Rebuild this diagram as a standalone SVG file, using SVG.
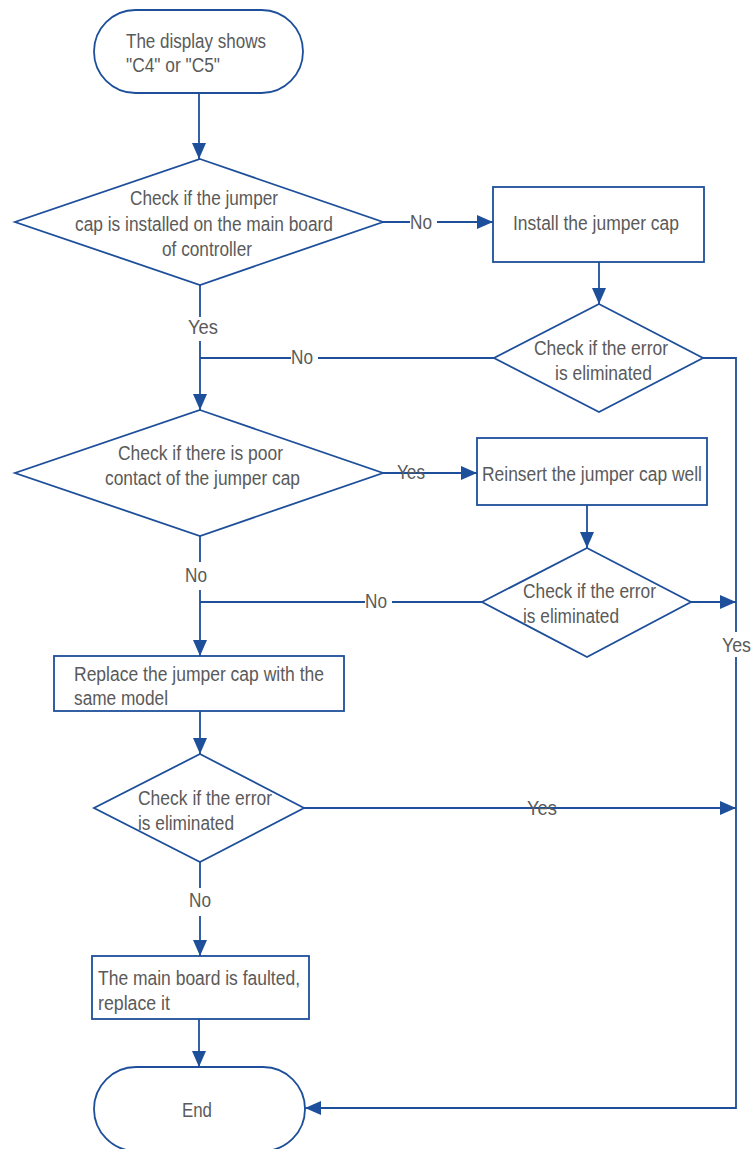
<svg xmlns="http://www.w3.org/2000/svg" width="753" height="1149" viewBox="0 0 753 1149">
<defs>
<marker id="arr" markerUnits="userSpaceOnUse" markerWidth="16" markerHeight="14" refX="16" refY="7" orient="auto">
<path d="M0,0 L16,7 L0,14 z" fill="#1d4f9a"/>
</marker>
<style>
.shape{fill:#fff;stroke:#1d4f9a;stroke-width:1.8}
.line{fill:none;stroke:#1d4f9a;stroke-width:1.8}
.t{font-family:"Liberation Sans",Arial,sans-serif;font-size:20px;fill:#5a5a5a}
.bg{fill:#fff}
</style>
</defs>
<rect width="753" height="1149" fill="#fff"/>
<g id="connectors">
<line class="line" x1="199" y1="93" x2="199" y2="159" marker-end="url(#arr)"/>
<line class="line" x1="383" y1="222" x2="493" y2="222" marker-end="url(#arr)"/>
<line class="line" x1="599" y1="262" x2="599" y2="304" marker-end="url(#arr)"/>
<line class="line" x1="200" y1="285" x2="200" y2="410" marker-end="url(#arr)"/>
<polyline class="line" points="494,358 200,358"/>
<polyline class="line" points="703,358 736,358 736,1108 305,1108" marker-end="url(#arr)"/>
<line class="line" x1="383" y1="473" x2="477" y2="473" marker-end="url(#arr)"/>
<line class="line" x1="587" y1="505" x2="587" y2="548" marker-end="url(#arr)"/>
<line class="line" x1="200" y1="536" x2="200" y2="656" marker-end="url(#arr)"/>
<polyline class="line" points="482,602 200,602"/>
<line class="line" x1="691" y1="602" x2="736" y2="602" marker-end="url(#arr)"/>
<line class="line" x1="200" y1="711" x2="200" y2="754" marker-end="url(#arr)"/>
<line class="line" x1="304" y1="808" x2="736" y2="808" marker-end="url(#arr)"/>
<line class="line" x1="200" y1="862" x2="200" y2="956" marker-end="url(#arr)"/>
<line class="line" x1="199" y1="1019" x2="199" y2="1067" marker-end="url(#arr)"/>
<rect class="bg" x="410" y="213" width="27" height="19"/>
<text class="t" x="410" y="229" textLength="22" lengthAdjust="spacingAndGlyphs">No</text>
<rect class="bg" x="187" y="317" width="32" height="24"/>
<text class="t" x="188" y="334" textLength="30" lengthAdjust="spacingAndGlyphs">Yes</text>
<rect class="bg" x="291" y="349" width="27" height="19"/>
<text class="t" x="291" y="364" textLength="22" lengthAdjust="spacingAndGlyphs">No</text>
<text class="t" x="397" y="479" textLength="28" lengthAdjust="spacingAndGlyphs">Yes</text>
<rect class="bg" x="184" y="562" width="24" height="28"/>
<text class="t" x="185" y="582" textLength="22" lengthAdjust="spacingAndGlyphs">No</text>
<rect class="bg" x="365" y="594" width="27" height="19"/>
<text class="t" x="365" y="608" textLength="22" lengthAdjust="spacingAndGlyphs">No</text>
<rect class="bg" x="721" y="632" width="32" height="25"/>
<text class="t" x="722" y="652" textLength="29" lengthAdjust="spacingAndGlyphs">Yes</text>
<text class="t" x="527" y="815" textLength="30" lengthAdjust="spacingAndGlyphs">Yes</text>
<rect class="bg" x="188" y="888" width="24" height="28"/>
<text class="t" x="189" y="907" textLength="22" lengthAdjust="spacingAndGlyphs">No</text>
</g>
<g id="start">
<rect class="shape" x="94" y="10" width="209" height="83" rx="41.5"/>
<text class="t" x="126" y="48" textLength="140" lengthAdjust="spacingAndGlyphs">The display shows</text>
<text class="t" x="126" y="72" textLength="94" lengthAdjust="spacingAndGlyphs">"C4" or "C5"</text>
</g>
<g id="d1">
<polygon class="shape" points="200,159 383,222 200,285 15,222"/>
<text class="t" x="130" y="205" textLength="148" lengthAdjust="spacingAndGlyphs">Check if the jumper</text>
<text class="t" x="75" y="231" textLength="258" lengthAdjust="spacingAndGlyphs">cap is installed on the main board</text>
<text class="t" x="162" y="256" textLength="90" lengthAdjust="spacingAndGlyphs">of controller</text>
</g>
<g id="b1">
<rect class="shape" x="493" y="187" width="211" height="75"/>
<text class="t" x="513" y="230" textLength="166" lengthAdjust="spacingAndGlyphs">Install the jumper cap</text>
</g>
<g id="d2">
<polygon class="shape" points="599,304 703,358 599,412 494,358"/>
<text class="t" x="534" y="355" textLength="134" lengthAdjust="spacingAndGlyphs">Check if the error</text>
<text class="t" x="555" y="380" textLength="97" lengthAdjust="spacingAndGlyphs">is eliminated</text>
</g>
<g id="d3">
<polygon class="shape" points="200,410 383,473 200,536 15,473"/>
<text class="t" x="118" y="460" textLength="165" lengthAdjust="spacingAndGlyphs">Check if there is poor</text>
<text class="t" x="105" y="485" textLength="195" lengthAdjust="spacingAndGlyphs">contact of the jumper cap</text>
</g>
<g id="b2">
<rect class="shape" x="477" y="438" width="230" height="67"/>
<text class="t" x="482" y="481" textLength="220" lengthAdjust="spacingAndGlyphs">Reinsert the jumper cap well</text>
</g>
<g id="d4">
<polygon class="shape" points="587,548 691,602 587,657 482,602"/>
<text class="t" x="523" y="598" textLength="133" lengthAdjust="spacingAndGlyphs">Check if the error</text>
<text class="t" x="523" y="623" textLength="96" lengthAdjust="spacingAndGlyphs">is eliminated</text>
</g>
<g id="b3">
<rect class="shape" x="54" y="656" width="290" height="55"/>
<text class="t" x="74" y="681" textLength="250" lengthAdjust="spacingAndGlyphs">Replace the jumper cap with the</text>
<text class="t" x="74" y="705" textLength="94" lengthAdjust="spacingAndGlyphs">same model</text>
</g>
<g id="d5">
<polygon class="shape" points="200,754 304,808 200,862 94,808"/>
<text class="t" x="138" y="805" textLength="134" lengthAdjust="spacingAndGlyphs">Check if the error</text>
<text class="t" x="138" y="830" textLength="96" lengthAdjust="spacingAndGlyphs">is eliminated</text>
</g>
<g id="b4">
<rect class="shape" x="92" y="956" width="217" height="63"/>
<text class="t" x="98" y="985" textLength="202" lengthAdjust="spacingAndGlyphs">The main board is faulted,</text>
<text class="t" x="98" y="1010" textLength="72" lengthAdjust="spacingAndGlyphs">replace it</text>
</g>
<g id="end">
<rect class="shape" x="94" y="1067" width="211" height="84" rx="42"/>
<text class="t" x="182" y="1117" textLength="30" lengthAdjust="spacingAndGlyphs">End</text>
</g>
</svg>
